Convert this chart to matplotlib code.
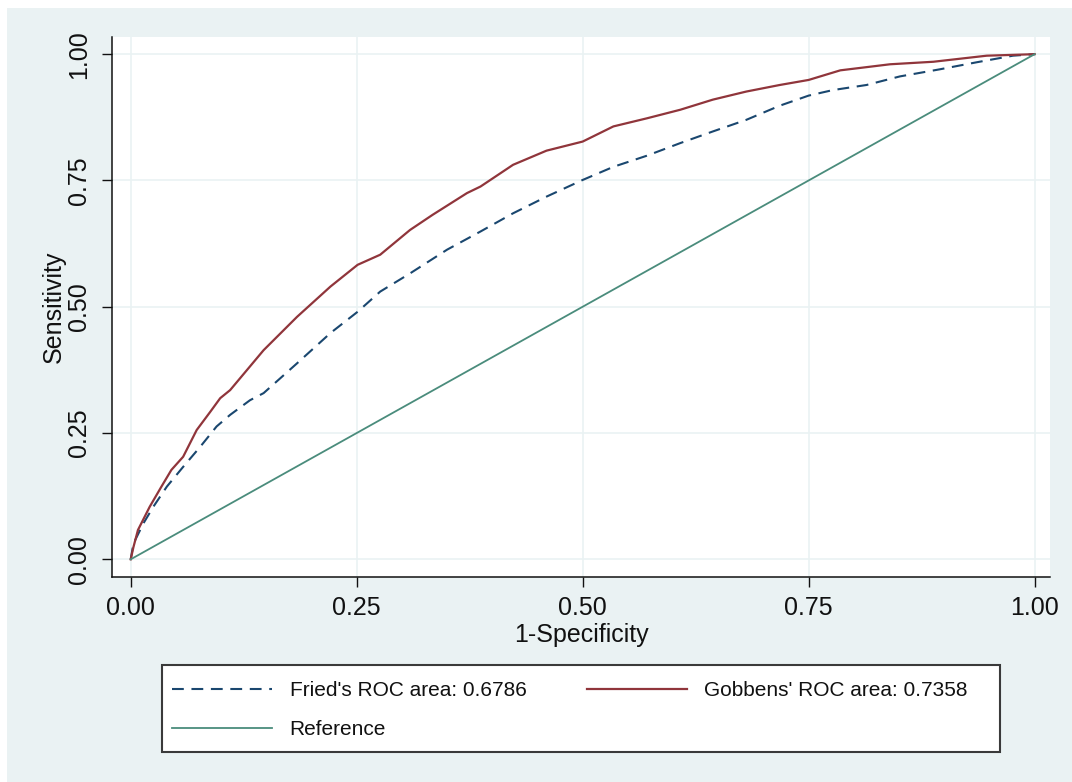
import numpy as np
import matplotlib
matplotlib.use("Agg")
import matplotlib.pyplot as plt
from matplotlib.patches import Rectangle

# ----------------------------
# Data
# ----------------------------
gobbens_fpr = [0, 0.003, 0.008, 0.021, 0.034, 0.045, 0.058, 0.073, 0.088, 0.099,
               0.110, 0.147, 0.184, 0.221, 0.251, 0.276, 0.309, 0.334, 0.372, 0.387,
               0.423, 0.460, 0.500, 0.534, 0.571, 0.608, 0.644, 0.681, 0.718, 0.750,
               0.785, 0.840, 0.888, 0.947, 1.0]
gobbens_tpr = [0, 0.024, 0.058, 0.104, 0.144, 0.177, 0.203, 0.256, 0.292, 0.319,
               0.335, 0.414, 0.480, 0.540, 0.583, 0.603, 0.652, 0.682, 0.725, 0.738,
               0.781, 0.809, 0.827, 0.857, 0.873, 0.890, 0.910, 0.926, 0.939, 0.949,
               0.968, 0.980, 0.985, 0.997, 1.0]

fried_fpr = [0, 0.003, 0.014, 0.025, 0.040, 0.058, 0.077, 0.095, 0.110, 0.132,
             0.147, 0.184, 0.221, 0.251, 0.276, 0.309, 0.350, 0.387, 0.423, 0.460,
             0.500, 0.534, 0.571, 0.608, 0.644, 0.681, 0.718, 0.750, 0.777, 0.814,
             0.851, 0.895, 0.936, 0.976, 1.0]
fried_tpr = [0, 0.031, 0.071, 0.104, 0.144, 0.183, 0.223, 0.263, 0.286, 0.315,
             0.329, 0.388, 0.448, 0.490, 0.530, 0.566, 0.613, 0.649, 0.685, 0.718,
             0.751, 0.777, 0.799, 0.824, 0.847, 0.870, 0.898, 0.918, 0.929, 0.939,
             0.956, 0.970, 0.984, 0.997, 1.0]

ref_x = [0, 1]
ref_y = [0, 1]

ticks = [0, 0.25, 0.5, 0.75, 1.0]
tick_labels = ["0.00", "0.25", "0.50", "0.75", "1.00"]

labels = ["Fried's ROC area: 0.6786", "Gobbens' ROC area: 0.7358", "Reference"]

# ----------------------------
# Style
# ----------------------------
plt.rcParams["font.family"] = ["Liberation Sans", "DejaVu Sans"]
plt.rcParams["lines.scale_dashes"] = False

W, H = 1072, 782
fig = plt.figure(figsize=(W / 100, H / 100), dpi=100, facecolor="white")

bg = "#EAF2F3"
navy = "#1A476F"
maroon = "#90353B"
teal = "#4A8C7C"
ink = "#111111"

# outer graph region
fig.patches.append(Rectangle((7 / W, 0), 1, 1 - 8 / H, transform=fig.transFigure,
                             facecolor=bg, edgecolor="none", zorder=-5))

ax = fig.add_axes([112 / W, 1 - 577 / H, (1050 - 112) / W, (577 - 37) / H])
ax.set_zorder(1)
ax.set_facecolor("white")

l_fried, = ax.plot(fried_fpr, fried_tpr, color=navy, lw=1.5, dashes=(8.5, 5.5))
l_gob, = ax.plot(gobbens_fpr, gobbens_tpr, color=maroon, lw=1.6)
l_ref, = ax.plot(ref_x, ref_y, color=teal, lw=1.3)

ax.set_xlim(-0.0207, 1.017)
ax.set_ylim(-0.035, 1.034)

ax.set_xticks(ticks)
ax.set_xticklabels(tick_labels)
ax.set_yticks(ticks)
ax.set_yticklabels(tick_labels, rotation=90, va="center")

ax.grid(True, color=bg, lw=1.2)
ax.set_axisbelow(True)

for side in ["top", "right"]:
    ax.spines[side].set_visible(False)
for side in ["left", "bottom"]:
    ax.spines[side].set_color(ink)
    ax.spines[side].set_linewidth(1.1)

ax.tick_params(axis="both", direction="out", length=7, width=1.0, color=ink,
               labelsize=18, labelcolor=ink)
ax.tick_params(axis="x", pad=7)
ax.tick_params(axis="y", pad=8)

ax.set_xlabel("1-Specificity", fontsize=18, color=ink, labelpad=2)
ax.set_ylabel("Sensitivity", fontsize=18, color=ink, labelpad=1)

# ----------------------------
# Legend box (filled row by row like Stata)
# ----------------------------
fig.patches.append(Rectangle((162 / W, 1 - 752 / H), (1000 - 162) / W, (752 - 665) / H,
                             transform=fig.transFigure, facecolor="white",
                             edgecolor="#3a3a3a", lw=1.5, zorder=2))

leg = fig.legend([l_fried, l_ref, l_gob], [labels[0], labels[2], labels[1]],
                 ncol=2, mode="expand", frameon=False, loc="center",
                 bbox_to_anchor=(172 / W, 1 - 748 / H, (968 - 172) / W, (748 - 672) / H),
                 fontsize=15, handlelength=4.8, handletextpad=0.85,
                 labelspacing=0.95, borderpad=0, borderaxespad=0)
leg.set_zorder(3)
for t in leg.get_texts():
    t.set_color(ink)

fig.savefig("out.png", dpi=100, facecolor="white")
